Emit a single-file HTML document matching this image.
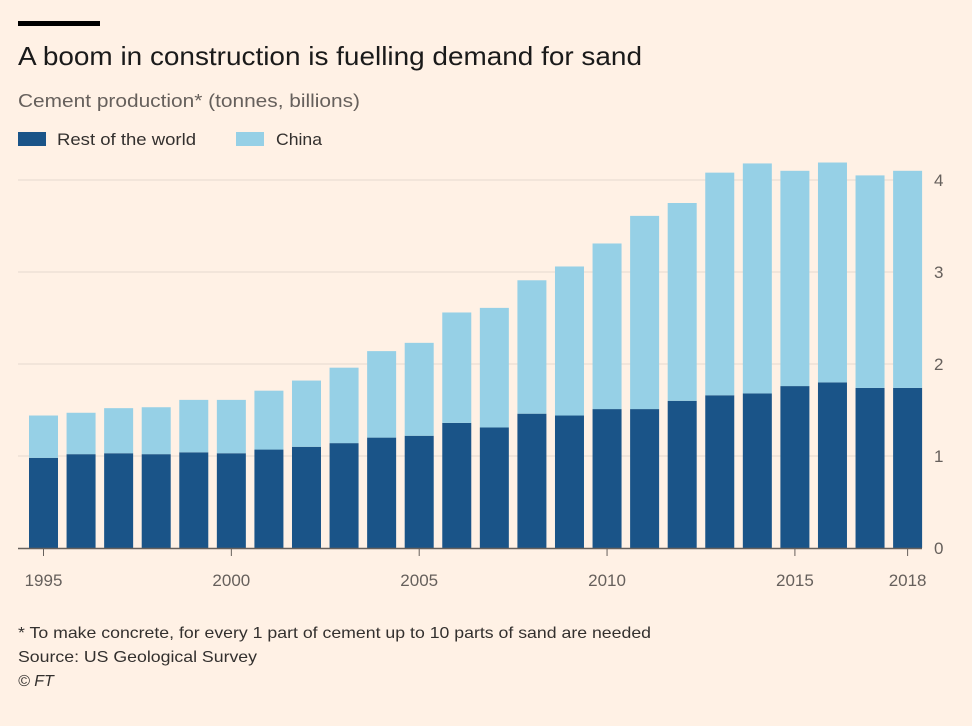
<!DOCTYPE html>
<html><head><meta charset="utf-8"><style>
body{margin:0;background:#fff1e5;font-family:"Liberation Sans",sans-serif;}
#wrap{position:relative;width:972px;height:726px;background:#fff1e5;overflow:hidden}
</style></head><body>
<div id="wrap">
<svg id="c" width="972" height="726">
<rect x="18" y="21" width="82" height="5" fill="#000"/>
<text x="18" y="65" font-size="26" fill="#1a1a1a" textLength="624" lengthAdjust="spacingAndGlyphs">A boom in construction is fuelling demand for sand</text>
<text x="18" y="107" font-size="18" fill="#66605c" textLength="342" lengthAdjust="spacingAndGlyphs">Cement production* (tonnes, billions)</text>
<rect x="18" y="132" width="28" height="14" fill="#1a5488"/>
<text x="57" y="145" font-size="17" fill="#33302e" textLength="139" lengthAdjust="spacingAndGlyphs">Rest of the world</text>
<rect x="236" y="132" width="28" height="14" fill="#96d0e6"/>
<text x="276" y="145" font-size="17" fill="#33302e" textLength="46" lengthAdjust="spacingAndGlyphs">China</text>
<g id="grid"></g><g id="bars"></g><g id="axes"></g>
<text x="18" y="638" font-size="16" fill="#33302e" textLength="633" lengthAdjust="spacingAndGlyphs">* To make concrete, for every 1 part of cement up to 10 parts of sand are needed</text>
<text x="18" y="662" font-size="16" fill="#33302e" textLength="239" lengthAdjust="spacingAndGlyphs">Source: US Geological Survey</text>
<text x="18" y="686" font-size="16" font-style="italic" fill="#33302e">© FT</text>
</svg></div>
<script>
const years=[1995,1996,1997,1998,1999,2000,2001,2002,2003,2004,2005,2006,2007,2008,2009,2010,2011,2012,2013,2014,2015,2016,2017,2018];
const restOfWorld=[0.98,1.02,1.03,1.02,1.04,1.03,1.07,1.10,1.14,1.20,1.22,1.36,1.31,1.46,1.44,1.51,1.51,1.60,1.66,1.68,1.76,1.80,1.74,1.74];
const totals=[1.44,1.47,1.52,1.53,1.61,1.61,1.71,1.82,1.96,2.14,2.23,2.56,2.61,2.91,3.06,3.31,3.61,3.75,4.08,4.18,4.10,4.19,4.05,4.10];
const yTicks=[0,1,2,3,4];
const xTickLabels=[1995,2000,2005,2010,2015,2018];
const NS="http://www.w3.org/2000/svg";
const y=v=>548-v*92;
const x=yr=>43.5+(yr-1995)*37.57;
const bw=29;
function mk(tag,attrs,parent){const e=document.createElementNS(NS,tag);for(const k in attrs)e.setAttribute(k,attrs[k]);document.getElementById(parent).appendChild(e);return e;}
yTicks.forEach(t=>{
 if(t>0){const l=mk('line',{x1:18,x2:922,y1:y(t),y2:y(t),stroke:'#e6d9ce','stroke-width':1},'grid');
 
 }
 const tx=mk('text',{x:934,y:y(t)+6,'font-size':17,fill:'#66605c'},'axes');tx.textContent=t;
 
 
});
years.forEach((yr,i)=>{
 const china=totals[i]-restOfWorld[i];
 const r=mk('rect',{x:x(yr)-bw/2,y:y(restOfWorld[i]),width:bw,height:restOfWorld[i]*92,fill:'#1a5488'},'bars');
 
 
 const c=mk('rect',{x:x(yr)-bw/2,y:y(totals[i]),width:bw,height:china*92,fill:'#96d0e6'},'bars');
 
 
});
const ax=mk('line',{x1:18,x2:922,y1:548.5,y2:548.5,stroke:'#66605c','stroke-width':1.5},'axes');


xTickLabels.forEach(yr=>{
 const tk=mk('line',{x1:x(yr),x2:x(yr),y1:549,y2:556,stroke:'#66605c'},'axes');
 
 
 const t=mk('text',{x:x(yr),y:586,'font-size':17,fill:'#66605c','text-anchor':'middle'},'axes');t.textContent=yr;
 
 
});
</script>
</body></html>
